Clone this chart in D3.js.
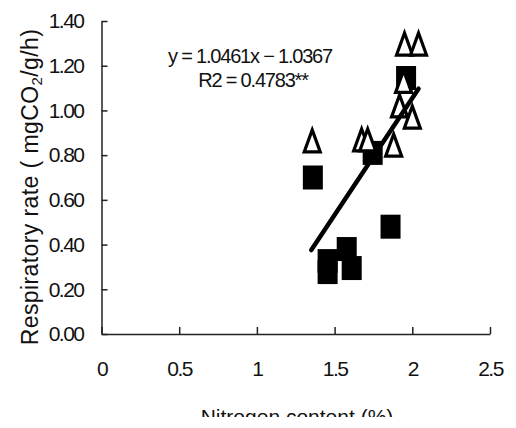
<!DOCTYPE html>
<html>
<head>
<meta charset="utf-8">
<script src="https://cdn.jsdelivr.net/npm/d3@7"></script>
<style>
  body { margin: 0; background: #fff; }
  svg { display: block; }
  text { font-family: "Liberation Sans", Arial, sans-serif; fill: #111; }
</style>
</head>
<body>
<script>
// nitrogen content (%) / respiratory rate
var squareN = [1.36, 1.455, 1.455, 1.578, 1.61, 1.745, 1.86, 1.96];
var squareR = [0.70, 0.326, 0.277, 0.38, 0.295, 0.81, 0.48, 1.145];

var triN = [1.356, 1.95, 2.04, 1.944, 1.918, 2.0, 1.674, 1.713, 1.88];
var triR = [0.864, 1.297, 1.297, 1.13, 1.02, 0.97, 0.868, 0.868, 0.845];

var xTicks = [0, 0.5, 1, 1.5, 2, 2.5];
var yTicks = [0, 0.2, 0.4, 0.6, 0.8, 1.0, 1.2, 1.4];

var slope = 1.0461, intercept = -1.0367;
var fitRange = [1.35, 2.04];
var eqLabel = "y = 1.0461x \u2212 1.0367";
var r2Label = "R2 = 0.4783**";

var W = 516, H = 428;

var svg = d3.select("body")
  .append("svg")
  .attr("width", W)
  .attr("height", H);

var x = d3.scaleLinear().domain([0, 2.5]).range([101.5, 490]);
var y = d3.scaleLinear().domain([0, 1.4]).range([334, 21]);

// axes
var xAxis = svg.append("g")
  .attr("transform", "translate(0," + y(0) + ")")
  .call(d3.axisBottom(x).tickValues(xTicks).tickSize(-7).tickSizeOuter(0).tickPadding(27)
    .tickFormat(d3.format("")));

var yAxis = svg.append("g")
  .attr("transform", "translate(" + x(0) + ",0)")
  .call(d3.axisLeft(y).tickValues(yTicks).tickSize(-6).tickSizeOuter(0).tickPadding(18)
    .tickFormat(d3.format(".2f")));

svg.selectAll(".domain, .tick line")
  .attr("stroke", "#222")
  .attr("stroke-width", 1.5);

svg.selectAll(".tick text")
  .style("font-family", "'Liberation Sans', Arial, sans-serif")
  .style("font-size", "21px")
  .style("letter-spacing", "-1.5px")
  .attr("fill", "#111");

// points
var squares = d3.zip(squareN, squareR);
var tris = d3.zip(triN, triR);

svg.selectAll("rect.pt")
  .data(squares)
  .enter()
  .append("rect")
  .attr("class", "pt")
  .attr("x", d => x(d[0]) - 10)
  .attr("y", d => y(d[1]) - 12)
  .attr("width", 20)
  .attr("height", 24)
  .attr("fill", "#000");

svg.selectAll("path.tri")
  .data(tris)
  .enter()
  .append("path")
  .attr("class", "tri")
  .attr("d", function (d) {
    var cx = x(d[0]), cy = y(d[1]);
    return "M" + cx + "," + (cy - 11) + "L" + (cx + 8) + "," + (cy + 11) + "L" + (cx - 8) + "," + (cy + 11) + "Z";
  })
  .attr("fill", "#fff")
  .attr("stroke", "#000")
  .attr("stroke-width", 3.2)
  .attr("stroke-linejoin", "miter");

// regression line
svg.append("line")
  .attr("x1", x(fitRange[0]))
  .attr("y1", y(slope * fitRange[0] + intercept))
  .attr("x2", x(fitRange[1]))
  .attr("y2", y(slope * fitRange[1] + intercept))
  .attr("stroke", "#000")
  .attr("stroke-width", 4.5)
  .attr("stroke-linecap", "round");

// equation
svg.append("text")
  .attr("x", 250)
  .attr("y", 63)
  .attr("text-anchor", "middle")
  .style("font-size", "20px")
  .style("letter-spacing", "-1.2px")
  .text(eqLabel);

svg.append("text")
  .attr("x", 253)
  .attr("y", 87)
  .attr("text-anchor", "middle")
  .style("font-size", "20px")
  .style("letter-spacing", "-1.2px")
  .text(r2Label);

// axis titles
var yt = svg.append("text")
  .attr("transform", "translate(38,187) rotate(-90)")
  .attr("text-anchor", "middle")
  .style("font-size", "23px")
  .style("letter-spacing", "0.4px");
yt.append("tspan").text("Respiratory rate ( mgCO");
yt.append("tspan").attr("dy", 4).style("font-size", "15px").text("2");
yt.append("tspan").attr("dy", -4).text("/g/h)");

svg.append("text")
  .attr("x", 297)
  .attr("y", 424)
  .attr("text-anchor", "middle")
  .style("font-size", "21px")
  .text("Nitrogen content (%)");

// the scan cuts the x title off
svg.append("rect")
  .attr("x", 0)
  .attr("y", 417)
  .attr("width", W)
  .attr("height", H - 417)
  .attr("fill", "#fff");
</script>
</body>
</html>
